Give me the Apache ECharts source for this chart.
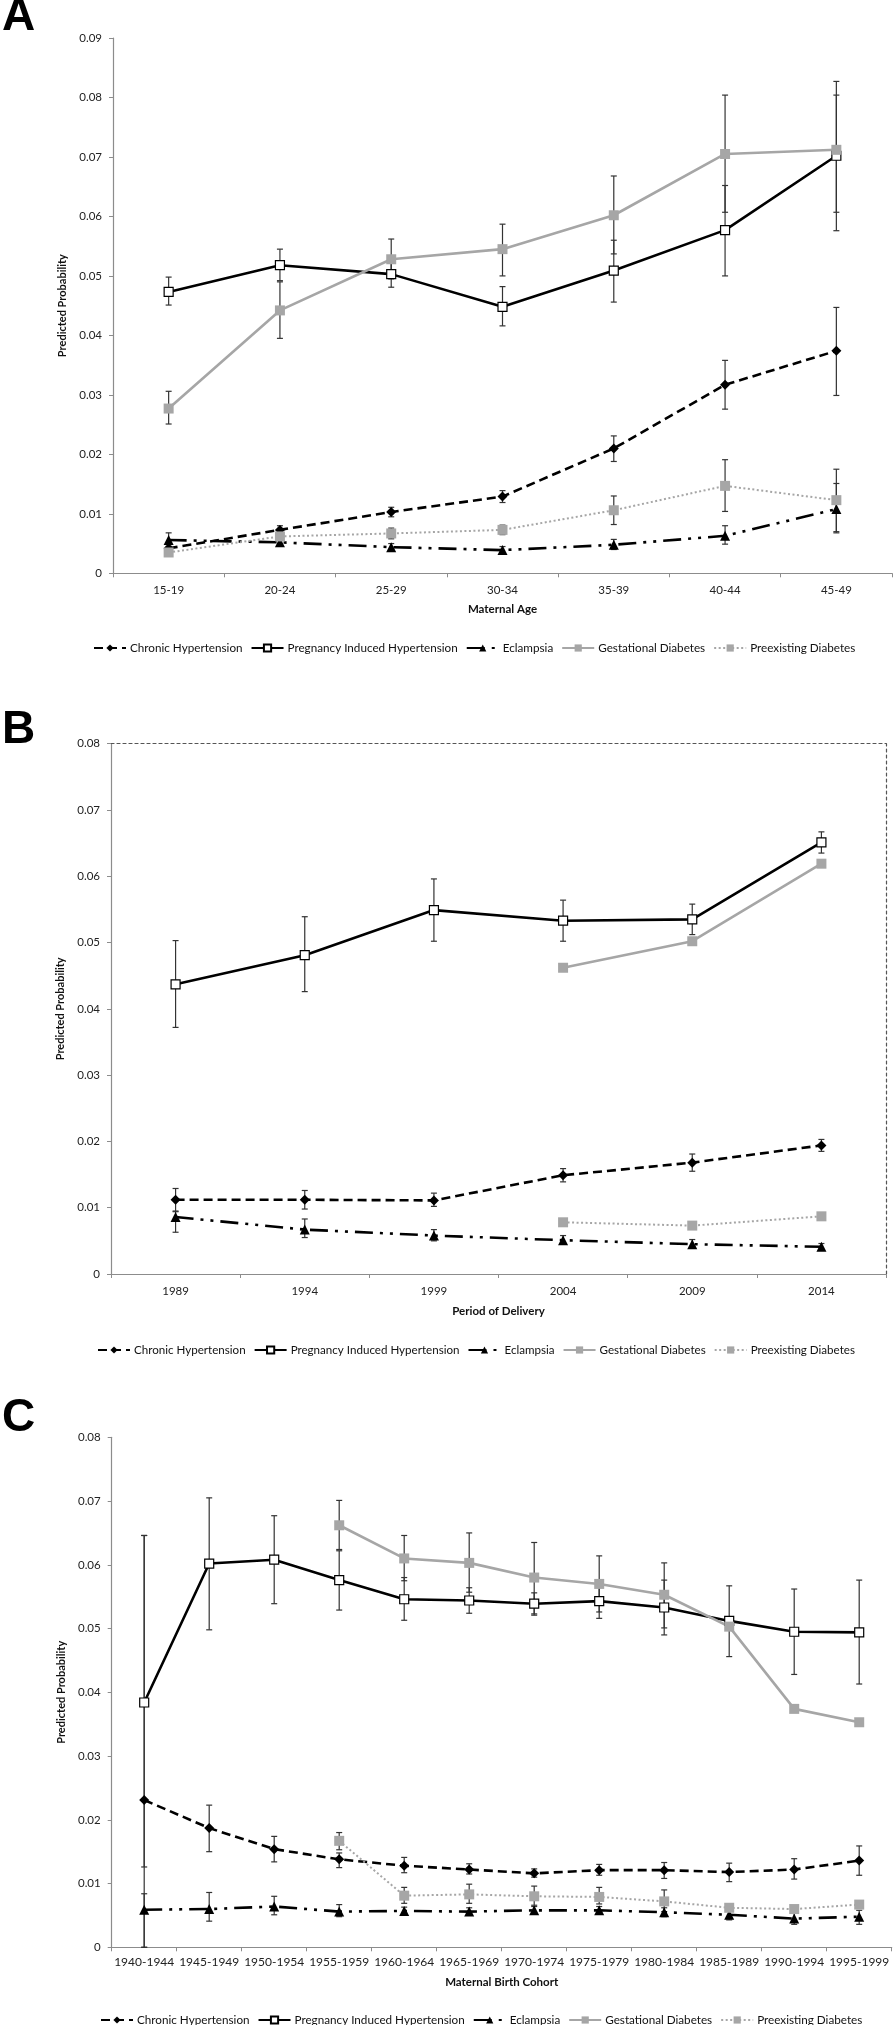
<!DOCTYPE html>
<html><head><meta charset="utf-8">
<script src="https://cdn.jsdelivr.net/npm/echarts@6/dist/echarts.min.js"></script>
<style>html,body{margin:0;padding:0;background:#fff}#c{width:894px;height:2025px}</style>
</head><body><div id="c"></div>
<script>
// ---------- Panel A: Maternal Age ----------
const catA = ['15-19','20-24','25-29','30-34','35-39','40-44','45-49'];
const chA    = [0.0042,0.0073,0.0103,0.0129,0.0210,0.0317,0.0374];
const chA_lo = [0.0036,0.0066,0.0095,0.0119,0.0188,0.0276,0.0299];
const chA_hi = [0.0048,0.0080,0.0111,0.0139,0.0231,0.0358,0.0447];
const pihA    = [0.0473,0.0518,0.0503,0.0448,0.0509,0.0577,0.0702];
const pihA_lo = [0.0451,0.0492,0.0481,0.0416,0.0456,0.0500,0.0576];
const pihA_hi = [0.0498,0.0545,0.0525,0.0482,0.0560,0.0652,0.0804];
const eclA    = [0.0056,0.0052,0.0044,0.0039,0.0048,0.0063,0.0108];
const eclA_lo = [0.0045,0.0046,0.0039,0.0034,0.0040,0.0049,0.0068];
const eclA_hi = [0.0068,0.0058,0.0050,0.0045,0.0057,0.0080,0.0151];
const gdA    = [0.0277,0.0442,0.0528,0.0545,0.0602,0.0705,0.0712];
const gdA_lo = [0.0251,0.0395,0.0495,0.0500,0.0537,0.0607,0.0607];
const gdA_hi = [0.0306,0.0490,0.0562,0.0587,0.0668,0.0804,0.0827];
const pdA    = [0.0035,0.0062,0.0067,0.0073,0.0106,0.0147,0.0123];
const pdA_lo = [0.0030,0.0055,0.0058,0.0065,0.0082,0.0104,0.0070];
const pdA_hi = [0.0040,0.0069,0.0076,0.0081,0.0130,0.0191,0.0175];

// ---------- Panel B: Period of Delivery ----------
const catB = ['1989','1994','1999','2004','2009','2014'];
const chB    = [0.0112,0.0112,0.0111,0.0149,0.0168,0.0194];
const chB_lo = [0.0094,0.0098,0.0102,0.0139,0.0155,0.0185];
const chB_hi = [0.0129,0.0126,0.0122,0.0159,0.0181,0.0203];
const pihB    = [0.0437,0.0481,0.0549,0.0533,0.0535,0.0651];
const pihB_lo = [0.0372,0.0426,0.0502,0.0502,0.0512,0.0635];
const pihB_hi = [0.0503,0.0539,0.0596,0.0564,0.0558,0.0667];
const eclB    = [0.0086,0.0067,0.0058,0.0051,0.0045,0.0041];
const eclB_lo = [0.0063,0.0055,0.0050,0.0047,0.0041,0.0036];
const eclB_hi = [0.0095,0.0083,0.0067,0.0058,0.0052,0.0046];
const gdB = [null,null,null,0.0462,0.0502,0.0619];
const pdB = [null,null,null,0.0078,0.0073,0.0087];

// ---------- Panel C: Maternal Birth Cohort ----------
const catC = ['1940-1944','1945-1949','1950-1954','1955-1959','1960-1964','1965-1969','1970-1974','1975-1979','1980-1984','1985-1989','1990-1994','1995-1999'];
const chC    = [0.0231,0.0187,0.0154,0.0138,0.0128,0.0122,0.0116,0.0121,0.0121,0.0118,0.0122,0.0136];
const chC_lo = [0.0126,0.0150,0.0134,0.0125,0.0117,0.0115,0.0110,0.0113,0.0108,0.0103,0.0107,0.0113];
const chC_hi = [0.0646,0.0223,0.0174,0.0148,0.0141,0.0131,0.0123,0.0130,0.0133,0.0132,0.0139,0.0159];
const pihC    = [0.0384,0.0602,0.0608,0.0576,0.0546,0.0544,0.0539,0.0543,0.0533,0.0512,0.0495,0.0494];
const pihC_lo = [0.0000,0.0498,0.0539,0.0529,0.0513,0.0524,0.0521,0.0516,0.0490,0.0456,0.0428,0.0413];
const pihC_hi = [0.0646,0.0705,0.0677,0.0622,0.0580,0.0564,0.0556,0.0570,0.0576,0.0567,0.0562,0.0576];
const eclC    = [0.0059,0.0060,0.0064,0.0056,0.0057,0.0056,0.0058,0.0058,0.0055,0.0051,0.0045,0.0048];
const eclC_lo = [0.0000,0.0041,0.0051,0.0048,0.0051,0.0051,0.0053,0.0053,0.0048,0.0043,0.0036,0.0036];
const eclC_hi = [0.0084,0.0086,0.0080,0.0067,0.0063,0.0062,0.0064,0.0064,0.0062,0.0059,0.0054,0.0058];
const gdC    = [null,null,null,0.0662,0.0610,0.0603,0.0580,0.0570,0.0553,0.0503,0.0374,0.0353];
const gdC_lo = [null,null,null,0.0624,0.0575,0.0557,0.0523,0.0526,0.0501,null,null,null];
const gdC_hi = [null,null,null,0.0701,0.0646,0.0650,0.0635,0.0614,0.0603,null,null,null];
const pdC    = [null,null,null,0.0167,0.0081,0.0083,0.0080,0.0079,0.0072,0.0062,0.0060,0.0067];
const pdC_lo = [null,null,null,0.0153,0.0069,0.0069,0.0066,0.0068,0.0056,null,null,null];
const pdC_hi = [null,null,null,0.0180,0.0094,0.0099,0.0096,0.0094,0.0090,null,null,null];

const yTicks = [0,0.01,0.02,0.03,0.04,0.05,0.06,0.07,0.08,0.09];
const names = ['Chronic Hypertension','Pregnancy Induced Hypertension','Eclampsia','Gestational Diabetes','Preexisting Diabetes'];
const xTitles = ['Maternal Age','Period of Delivery','Maternal Birth Cohort'];
const yTitle = 'Predicted Probability';

const GRAY = '#a6a6a6';
const AXIS = '#8c8c8c';
const FONT = 'Lato';

const styles = {
  'Chronic Hypertension': {symbol:'diamond', symbolSize:10, itemStyle:{color:'#000'}, lineStyle:{color:'#000', width:2.6, type:[9,5]}},
  'Pregnancy Induced Hypertension': {symbol:'rect', symbolSize:9, itemStyle:{color:'#fff', borderColor:'#000', borderWidth:1.2}, lineStyle:{color:'#000', width:2.6, type:'solid'}},
  'Eclampsia': {symbol:'triangle', symbolSize:10, itemStyle:{color:'#000'}, lineStyle:{color:'#000', width:2.6, type:[18,7,3,7,3,7]}},
  'Gestational Diabetes': {symbol:'rect', symbolSize:10, itemStyle:{color:GRAY}, lineStyle:{color:GRAY, width:2.6, type:'solid'}},
  'Preexisting Diabetes': {symbol:'rect', symbolSize:10, itemStyle:{color:GRAY}, lineStyle:{color:GRAY, width:2, type:[2,2.5]}}
};

function line(name, data, gi){
  return Object.assign({
    type:'line', name, xAxisIndex:gi, yAxisIndex:gi, z:3,
    data: data.map(v => v == null ? '-' : v),
    showAllSymbol:true, connectNulls:false, animation:false
  }, JSON.parse(JSON.stringify(styles[name])));
}
function err(gi, lo, hi){
  const d = [];
  lo.forEach((l,i)=>{ if(l!=null && hi[i]!=null) d.push([i,l,hi[i]]); });
  return {
    type:'custom', xAxisIndex:gi, yAxisIndex:gi, z:2, silent:true, animation:false,
    encode:{x:0, y:[1,2]}, data:d,
    renderItem(params, api){
      const x = api.value(0);
      const a = api.coord([x, api.value(1)]);
      const b = api.coord([x, api.value(2)]);
      const st = {stroke:'#333', lineWidth:1.2};
      const w = 3;
      return {type:'group', children:[
        {type:'line', shape:{x1:a[0],y1:a[1],x2:b[0],y2:b[1]}, style:st},
        {type:'line', shape:{x1:a[0]-w,y1:a[1],x2:a[0]+w,y2:a[1]}, style:st},
        {type:'line', shape:{x1:b[0]-w,y1:b[1],x2:b[0]+w,y2:b[1]}, style:st}
      ]};
    }
  };
}

const grids = [
  {left:113, right:2, top:38, height:535.3},
  {left:111, right:8, top:743.7, height:530.3},
  {left:111.7, right:2.3, top:1437.3, height:510}
];
const cats = [catA, catB, catC];
const ymax = [yTicks[9], yTicks[8], yTicks[8]];
const xLabelSize = [11.5, 11.5, 12];
const xNameGap = [30, 31, 29];

const xAxes = cats.map((c,i)=>({
  type:'category', gridIndex:i, data:c, boundaryGap:true,
  axisLine:{lineStyle:{color:AXIS, width:1.2}},
  axisTick:{show:true, length:4, lineStyle:{color:AXIS}},
  axisLabel:{color:'#222', fontSize:xLabelSize[i], fontFamily:FONT, margin:i===2?9:11, interval:0},
  name:xTitles[i], nameLocation:'middle', nameGap:xNameGap[i],
  nameTextStyle:{color:'#111', fontWeight:'bold', fontSize:11.5, fontFamily:FONT},
  splitLine:{show:false}
}));
xAxes.push({
  type:'category', gridIndex:1, data:catB, position:'top',
  axisLine:{show:true, onZero:false, lineStyle:{color:'#555', width:1.2, type:[3,3]}},
  axisTick:{show:false}, axisLabel:{show:false}, splitLine:{show:false}
});
const yAxes = ymax.map((m,i)=>({
  type:'value', gridIndex:i, min:0, max:m, interval:0.01,
  axisLine:{show:true, lineStyle:{color:AXIS, width:1.2}},
  axisTick:{show:true, length:4, lineStyle:{color:AXIS}},
  axisLabel:{color:'#222', fontSize:11.5, fontFamily:FONT, margin:11,
    formatter:v => v===0 ? '0' : v.toFixed(2)},
  splitLine:{show:false},
  name:yTitle, nameLocation:'middle', nameGap:40, nameRotate:90,
  nameTextStyle:{color:'#111', fontWeight:'bold', fontSize:11, fontFamily:FONT}
}));
yAxes.push({
  type:'value', gridIndex:1, min:0, max:ymax[1], position:'right',
  axisLine:{show:true, onZero:false, lineStyle:{color:'#555', width:1.2, type:[3,3]}},
  axisTick:{show:false}, axisLabel:{show:false}, splitLine:{show:false}
});

const series = [
  err(0, chA_lo, chA_hi), err(0, pihA_lo, pihA_hi), err(0, eclA_lo, eclA_hi), err(0, gdA_lo, gdA_hi), err(0, pdA_lo, pdA_hi),
  line(names[0], chA, 0), line(names[1], pihA, 0), line(names[2], eclA, 0), line(names[3], gdA, 0), line(names[4], pdA, 0),
  err(1, chB_lo, chB_hi), err(1, pihB_lo, pihB_hi), err(1, eclB_lo, eclB_hi),
  line(names[0], chB, 1), line(names[1], pihB, 1), line(names[2], eclB, 1), line(names[3], gdB, 1), line(names[4], pdB, 1),
  err(2, chC_lo, chC_hi), err(2, pihC_lo, pihC_hi), err(2, eclC_lo, eclC_hi), err(2, gdC_lo, gdC_hi), err(2, pdC_lo, pdC_hi),
  line(names[0], chC, 2), line(names[1], pihC, 2), line(names[2], eclC, 2), line(names[3], gdC, 2), line(names[4], pdC, 2)
];

function legend(top, left, size){
  return {data:names, top, left, width:880, orient:'horizontal', itemWidth:32, itemHeight:9, itemGap:8,
    selectedMode:false, textStyle:{color:'#111', fontSize:size, fontFamily:FONT, padding:[0,0,0,-1]}};
}

const chart = echarts.init(document.getElementById('c'), null, {renderer:'canvas'});
chart.setOption({
  animation:false,
  backgroundColor:'#fff',
  grid:grids,
  xAxis:xAxes,
  yAxis:yAxes,
  legend:[legend(637, 88, 11.7), legend(1339, 92, 11.6), legend(2009, 95, 11.7)],
  series,
  graphic:[
    {type:'text', left:2, top:-6, style:{text:'A', font:'bold 46px "Liberation Sans", Arial, sans-serif', fill:'#000'}},
    {type:'text', left:2, top:707, style:{text:'B', font:'bold 46px "Liberation Sans", Arial, sans-serif', fill:'#000'}},
    {type:'text', left:2, top:1395, style:{text:'C', font:'bold 46px "Liberation Sans", Arial, sans-serif', fill:'#000'}}
  ]
});
</script></body></html>
